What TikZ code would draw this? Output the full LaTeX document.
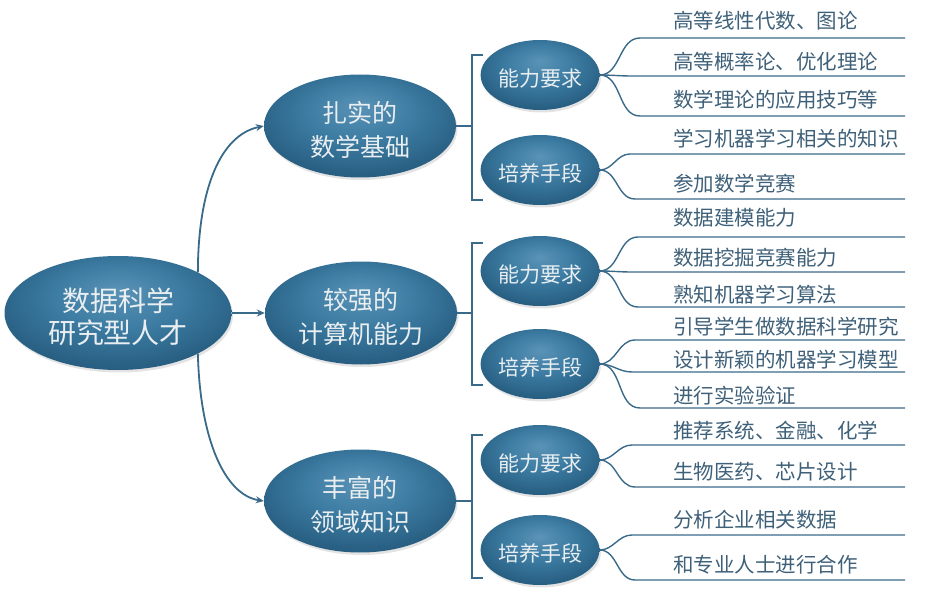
\documentclass[tikz,border=0pt]{standalone}
\usepackage{fontspec}
\newfontfamily\cjk{Noto Sans CJK SC}
\usetikzlibrary{shapes.geometric,shadows,arrows.meta}
\definecolor{ellout}{HTML}{225779}
\definecolor{ellin}{HTML}{3D7CA3}
\definecolor{ellhl}{HTML}{5A93B6}
\definecolor{linec}{HTML}{3A6A8A}
\definecolor{leaftext}{HTML}{3E6078}
\definecolor{elltext}{HTML}{E9EEF1}
\pgfdeclareradialshading{bubblesh}{\pgfpoint{0bp}{10bp}}{%
  color(0bp)=(ellhl); color(14bp)=(ellin); color(32bp)=(ellout); color(50bp)=(ellout)}
\newcommand\tallbox[2]{\raisebox{0pt}[\dimexpr\height+#1\relax]{#2}}
\newcommand\leafitem[6]{% #1 parent, #2 name, #3 line y, #4 text y, #5 text, #6 curve end x
  \coordinate (#2s) at (#6,#3);
  \coordinate (#2e) at (905,#3);
  \draw[twig] (#1.east) to[out=0,in=180] (#2s) -- (#2e);
  \node[leaf] (#2) at (673,#4) {#5};
}
\begin{document}
\begin{tikzpicture}[x=1pt,y=-1pt,
  bubble/.style={ellipse, inner sep=0pt, shade, shading=bubblesh,
    text=elltext, align=center,
    drop shadow={opacity=0.22, shadow xshift=1.5pt, shadow yshift=-2.5pt}},
  rootnode/.style={bubble, minimum width=227pt, minimum height=114pt, font=\cjk\fontsize{28}{32}\selectfont},
  mainnode/.style={bubble, minimum width=192pt, minimum height=103pt, font=\cjk\fontsize{25}{34}\selectfont},
  subnode/.style={bubble, minimum width=116pt, minimum height=70pt, font=\cjk\fontsize{21}{25}\selectfont},
  leaf/.style={anchor=west, inner sep=0pt, text=leaftext, font=\cjk\fontsize{20.5}{24}\selectfont},
  conn/.style={draw=linec, line width=1.8pt},
  arr/.style={conn, -{Stealth[length=8pt,width=7pt]}},
  twig/.style={draw=linec, line width=1.4pt},
]
\useasboundingbox (0,0) rectangle (935,599);

% root and main nodes
\node[rootnode] (root) at (118,313) {\tallbox{7pt}{数据科学}\\研究型人才};
\node[mainnode] (m1) at (360,126) {\tallbox{8pt}{扎实的}\\数学基础};
\node[mainnode] (m2) at (361,313) {\tallbox{8pt}{较强的}\\计算机能力};
\node[mainnode] (m3) at (360,501) {\tallbox{8pt}{丰富的}\\领域知识};

\draw[arr] (root.27) .. controls (198,190) and (220,135) .. (m1.west);
\draw[arr] (root.east) -- (m2.west);
\draw[arr] (root.-27) .. controls (200,440) and (225,495) .. (m3.west);

% brackets
\coordinate (b1m) at (472,126);
\coordinate (b1t) at (472,55);  \coordinate (b1tr) at (483,55);
\coordinate (b1b) at (472,200); \coordinate (b1br) at (483,200);
\draw[conn] (m1.east) -- (b1m);
\draw[conn] (b1tr) -- (b1t) -- (b1b) -- (b1br);

\coordinate (b2m) at (472,313);
\coordinate (b2t) at (472,243); \coordinate (b2tr) at (483,243);
\coordinate (b2b) at (472,385); \coordinate (b2br) at (483,385);
\draw[conn] (m2.east) -- (b2m);
\draw[conn] (b2tr) -- (b2t) -- (b2b) -- (b2br);

\coordinate (b3m) at (472,501);
\coordinate (b3t) at (472,435); \coordinate (b3tr) at (483,435);
\coordinate (b3b) at (472,578); \coordinate (b3br) at (483,578);
\draw[conn] (m3.east) -- (b3m);
\draw[conn] (b3tr) -- (b3t) -- (b3b) -- (b3br);

% sub nodes
\node[subnode] (a1) at (540,75) {\tallbox{7pt}{能力要求}};
\node[subnode] (p1) at (540,170) {\tallbox{7pt}{培养手段}};
\node[subnode] (a2) at (540,271) {\tallbox{7pt}{能力要求}};
\node[subnode] (p2) at (540,364) {\tallbox{7pt}{培养手段}};
\node[subnode] (a3) at (540,460) {\tallbox{7pt}{能力要求}};
\node[subnode] (p3) at (540,550) {\tallbox{7pt}{培养手段}};

% leaves
\leafitem{a1}{l11}{38}{21}{高等线性代数、图论}{640}
\leafitem{a1}{l12}{76}{62}{高等概率论、优化理论}{632}
\leafitem{a1}{l13}{116}{100}{数学理论的应用技巧等}{640}
\leafitem{p1}{l14}{154}{139}{学习机器学习相关的知识}{630}
\leafitem{p1}{l15}{199}{184}{参加数学竞赛}{635}

\leafitem{a2}{l21}{237}{218}{数据建模能力}{638}
\leafitem{a2}{l22}{272}{258}{数据挖掘竞赛能力}{632}
\leafitem{a2}{l23}{307}{295}{熟知机器学习算法}{638}
\leafitem{p2}{l24}{340}{327}{引导学生做数据科学研究}{635}
\leafitem{p2}{l25}{372}{360}{设计新颖的机器学习模型}{632}
\leafitem{p2}{l26}{408}{396}{进行实验验证}{640}

\leafitem{a3}{l31}{445}{431}{推荐系统、金融、化学}{632}
\leafitem{a3}{l32}{487}{472}{生物医药、芯片设计}{635}
\leafitem{p3}{l33}{535}{520}{分析企业相关数据}{632}
\leafitem{p3}{l34}{580}{565}{和专业人士进行合作}{635}
\end{tikzpicture}
\end{document}
